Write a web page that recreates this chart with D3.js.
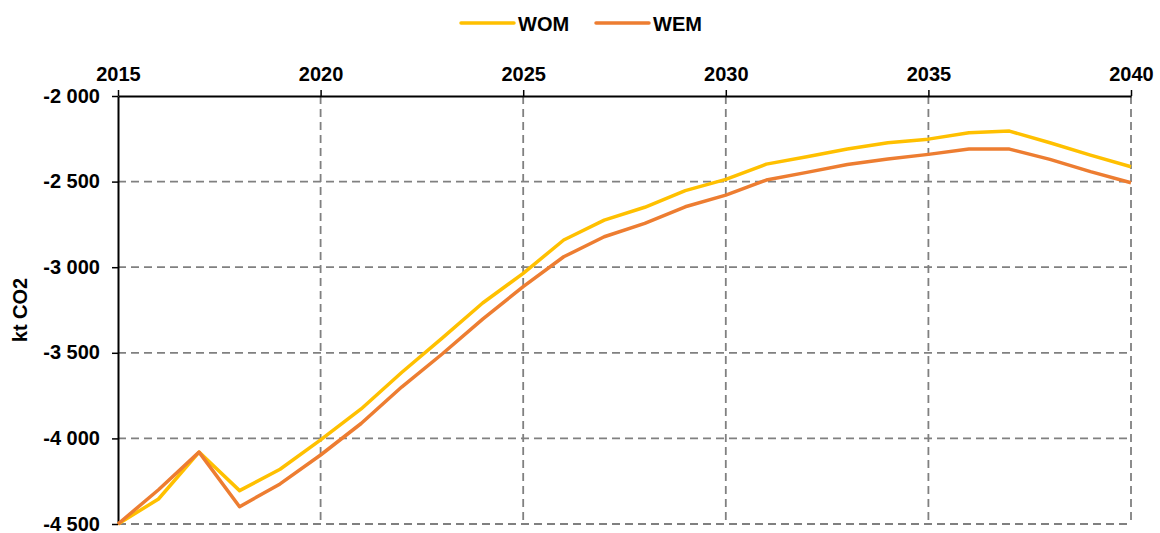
<!DOCTYPE html>
<html>
<head>
<meta charset="utf-8">
<script src="https://cdn.jsdelivr.net/npm/d3@7"></script>
<style>
  body { margin: 0; background: #fff; }
  svg text { font-family: "Liberation Sans", Arial, sans-serif; font-weight: bold; fill: #000; }
  .grid line { stroke: #808080; stroke-width: 1.8; stroke-dasharray: 8 5; }
</style>
</head>
<body>
<svg width="1160" height="533"></svg>
<script>
// chart data
var years = [2015, 2016, 2017, 2018, 2019, 2020, 2021, 2022, 2023, 2024, 2025, 2026, 2027,
             2028, 2029, 2030, 2031, 2032, 2033, 2034, 2035, 2036, 2037, 2038, 2039, 2040];
var wom = [-4500, -4354, -4080, -4305, -4180, -4009, -3828, -3615, -3414, -3209, -3036, -2841, -2725,
           -2650, -2553, -2487, -2398, -2355, -2310, -2273, -2252, -2215, -2205, -2273, -2345, -2413];
var wem = [-4500, -4300, -4080, -4399, -4266, -4097, -3913, -3700, -3507, -3303, -3114, -2939, -2822,
           -2744, -2647, -2579, -2491, -2446, -2400, -2368, -2341, -2310, -2310, -2370, -2442, -2507];
var xTicks = [2015, 2020, 2025, 2030, 2035, 2040];
var yTicks = [-2000, -2500, -3000, -3500, -4000, -4500];
var seriesNames = ["WOM", "WEM"];
var colors = ["#FFC000", "#ED7D31"];

var svg = d3.select("svg"),
    width = +svg.attr("width"),
    height = +svg.attr("height");

var margin = {top: 96, right: 29, bottom: 9, left: 118};

var x = d3.scaleLinear()
    .domain([2015, 2040])
    .range([margin.left, width - margin.right]);

var y = d3.scaleLinear()
    .domain([-4500, -2000])
    .range([height - margin.bottom, margin.top]);

// hyphen minus and space as thousands separator, like the original
var fmt = d3.formatLocale({decimal: ",", thousands: " ", grouping: [3], currency: ["", ""], minus: "-"}).format(",d");

// dashed grid
var grid = svg.append("g").attr("class", "grid");
grid.selectAll(".h")
    .data(yTicks.filter(function(d) { return d != -2000; }))
  .enter().append("line")
    .attr("x1", margin.left).attr("x2", width - margin.right)
    .attr("y1", function(d) { return y(d); }).attr("y2", function(d) { return y(d); });
grid.selectAll(".v")
    .data(xTicks.filter(function(d) { return d != 2015; }))
  .enter().append("line")
    .attr("x1", function(d) { return x(d); }).attr("x2", function(d) { return x(d); })
    .attr("y1", margin.top).attr("y2", height - margin.bottom);

// axes
var xAxis = svg.append("g")
    .attr("transform", "translate(0," + margin.top + ")")
    .call(d3.axisTop(x).tickValues(xTicks).tickFormat(d3.format("d")).tickSizeOuter(0).tickSizeInner(6).tickPadding(9));
var yAxis = svg.append("g")
    .attr("transform", "translate(" + margin.left + ",0)")
    .call(d3.axisLeft(y).tickValues(yTicks).tickFormat(fmt).tickSizeOuter(0).tickSizeInner(6).tickPadding(12));

[xAxis, yAxis].forEach(function(a) {
  a.select(".domain").attr("stroke", "#000").attr("stroke-width", 2);
  a.selectAll(".tick line").attr("stroke", "#000").attr("stroke-width", 1.5);
  a.selectAll(".tick text").style("font-size", "20px").attr("fill", "#000");
});
yAxis.selectAll(".tick text").attr("dy", "0.3em");

// lines
var line = d3.line()
    .x(function(d, i) { return x(years[i]); })
    .y(function(d) { return y(d); });

svg.selectAll(".series")
    .data([wom, wem])
  .enter().append("path")
    .attr("class", "series")
    .attr("fill", "none")
    .attr("stroke", function(d, i) { return colors[i]; })
    .attr("stroke-width", 3.5)
    .attr("stroke-linejoin", "round")
    .attr("d", line);

// y title
svg.append("text")
    .attr("transform", "translate(27," + ((margin.top + height - margin.bottom) / 2) + ") rotate(-90)")
    .attr("text-anchor", "middle")
    .style("font-size", "20px")
    .text("kt CO2");

// legend
var legendX = [461, 596];
var legend = svg.selectAll(".legend")
    .data(seriesNames)
  .enter().append("g")
    .attr("transform", function(d, i) { return "translate(" + legendX[i] + ",23)"; });
legend.append("line")
    .attr("x1", 0).attr("x2", 53)
    .attr("stroke", function(d, i) { return colors[i]; })
    .attr("stroke-width", 3.5)
    .attr("stroke-linecap", "round");
legend.append("text")
    .attr("x", 57)
    .attr("y", 7.5)
    .style("font-size", "20px")
    .text(function(d) { return d; });
</script>
</body>
</html>
